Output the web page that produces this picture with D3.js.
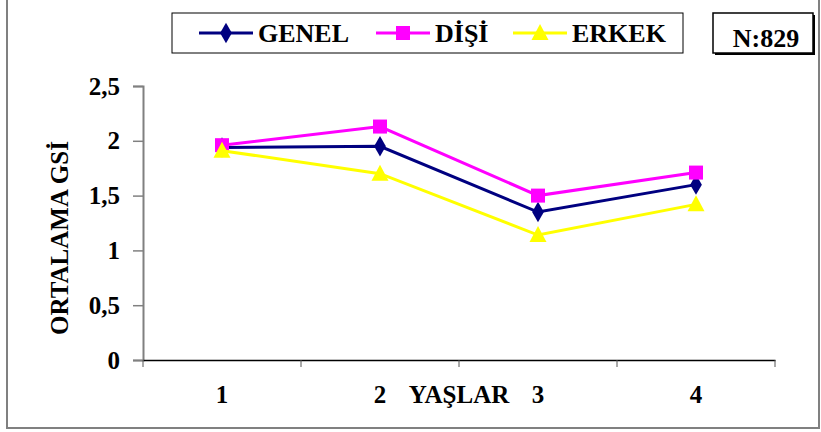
<!DOCTYPE html>
<html><head><meta charset="utf-8">
<script src="https://cdn.jsdelivr.net/npm/d3@7"></script>
<style>body{margin:0;background:#fff}svg{display:block}text{font-family:"Liberation Serif","Times New Roman",serif;font-weight:bold;fill:#000}</style>
</head><body><svg width="821" height="432"></svg>
<script>
const categories = ["1","2","3","4"];
const genel = [1.94, 1.95, 1.35, 1.60];
const disi  = [1.96, 2.13, 1.50, 1.71];
const erkek = [1.91, 1.70, 1.14, 1.42];
const yTicks = [0, 0.5, 1, 1.5, 2, 2.5];
const seriesNames = ["GENEL", "DİŞİ", "ERKEK"];
const series = [
  {name: seriesNames[0], values: genel, color: "#000080", marker: "diamond"},
  {name: seriesNames[1], values: disi,  color: "#FF00FF", marker: "square"},
  {name: seriesNames[2], values: erkek, color: "#FFFF00", marker: "triangle"}
];
const svg = d3.select("svg");
svg.append("rect").attr("x",7).attr("y",-5).attr("width",812).attr("height",433)
  .attr("fill","none").attr("stroke","#808080").attr("stroke-width",2);

const x = d3.scaleBand().domain(categories).range([143, 775]);
const y = d3.scaleLinear().domain([0, 2.5]).range([360, 86]);
const fmt = d => String(d).replace(".", ",");

const ya = svg.append("g").attr("transform","translate(143,0)")
  .call(d3.axisLeft(y).tickValues(yTicks).tickFormat(fmt).tickSizeOuter(0).tickSize(10).tickPadding(13));
ya.select(".domain").attr("stroke","#808080").attr("stroke-width",2);
ya.selectAll(".tick line").attr("stroke","#808080").attr("stroke-width",1.5);
ya.selectAll("text").attr("font-size",25).attr("fill","#000");

const xa = svg.append("g").attr("transform","translate(0,360)")
  .call(d3.axisBottom(x).tickSize(0).tickPadding(25));
xa.select(".domain").attr("stroke","#000").attr("stroke-width",1.5);
xa.selectAll("text").attr("font-size",25).attr("fill","#000");
const bounds = categories.map(c => x(c)).concat([x(categories[categories.length-1]) + x.bandwidth()]);
svg.append("g").selectAll("line").data(bounds).join("line")
  .attr("x1",d=>d).attr("x2",d=>d).attr("y1",360).attr("y2",367)
  .attr("stroke","#555").attr("stroke-width",1);

svg.append("text").attr("x",459).attr("y",403).attr("text-anchor","middle")
  .attr("font-size",25).text("YAŞLAR");
svg.append("text").attr("transform","translate(68,238) rotate(-90)").attr("text-anchor","middle")
  .attr("font-size",25).text("ORTALAMA GSİ");

const cx = c => x(c) + x.bandwidth()/2;
function drawMarker(g, type, color, px, py){
  if(type==="diamond"){
    g.append("path").attr("d", d3.symbol().type(d3.symbolDiamond).size(120)())
      .attr("transform",`translate(${px},${py})`).attr("fill",color);
  } else if(type==="square"){
    g.append("rect").attr("x",px-7).attr("y",py-7).attr("width",14).attr("height",14).attr("fill",color);
  } else {
    g.append("path").attr("d",`M${px},${py-9}L${px+8.5},${py+7}L${px-8.5},${py+7}Z`).attr("fill",color);
  }
}
const line = d3.line().x((d,i)=>cx(categories[i])).y(d=>y(d));
series.forEach(s=>{
  const g = svg.append("g");
  g.append("path").datum(s.values).attr("d",line).attr("fill","none")
    .attr("stroke",s.color).attr("stroke-width",3);
  s.values.forEach((v,i)=>drawMarker(g, s.marker, s.color, cx(categories[i]), y(v)));
});

svg.append("rect").attr("x",172).attr("y",13).attr("width",511).attr("height",40)
  .attr("fill","#fff").attr("stroke","#000").attr("stroke-width",1);
const legX = [199, 376, 513];
series.forEach((s,i)=>{
  const g = svg.append("g");
  g.append("line").attr("x1",legX[i]).attr("x2",legX[i]+54).attr("y1",33).attr("y2",33)
    .attr("stroke",s.color).attr("stroke-width",3);
  drawMarker(g, s.marker, s.color, legX[i]+27, 33);
  g.append("text").attr("x",legX[i]+59).attr("y",42).attr("font-size",26).text(s.name);
});

svg.append("rect").attr("x",715).attr("y",15).attr("width",100).attr("height",40).attr("fill","#000");
svg.append("rect").attr("x",713).attr("y",13).attr("width",100).attr("height",40)
  .attr("fill","#fff").attr("stroke","#000").attr("stroke-width",1.5);
svg.append("text").attr("x",766).attr("y",47).attr("text-anchor","middle").attr("font-size",26).text("N:829");
</script></body></html>
